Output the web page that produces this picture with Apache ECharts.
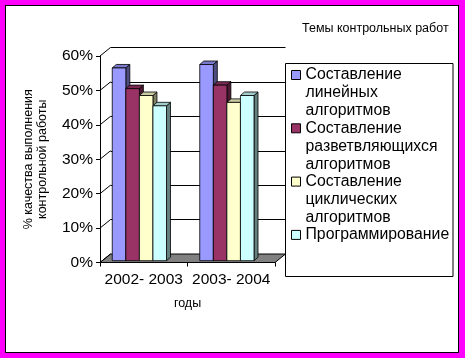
<!DOCTYPE html>
<html><head><meta charset="utf-8">
<script src="https://cdn.jsdelivr.net/npm/echarts@6/dist/echarts.min.js"></script>
<style>
html,body{margin:0;padding:0;background:#FF00FF;}
#frame{position:absolute;left:5px;top:5px;width:452px;height:346px;border:1px solid #000;background:#fff;}
#c{position:absolute;left:0;top:0;width:465px;height:358px;}
</style>
</head><body><div id="frame"></div><div id="c"></div><script>
const categories = ['2002- 2003', '2003- 2004'];
const seriesNames = ['Составление линейных алгоритмов', 'Составление разветвляющихся алгоритмов', 'Составление циклических алгоритмов', 'Программирование'];
const legendLabels = ['Составление\nлинейных\nалгоритмов', 'Составление\nразветвляющихся\nалгоритмов', 'Составление\nциклических\nалгоритмов', 'Программирование'];
const linear = [56, 57];
const branching = [50, 51];
const cyclic = [48, 46];
const programming = [45, 48];
const yTicks = [0, 10, 20, 30, 40, 50, 60];
const legendTitle = 'Темы контрольных работ';
const yName = '% качества выполнения\nконтрольной работы';
const xName = 'годы';

const values = [linear, branching, cyclic, programming];
const faces = [
  {front:'#9999FF', top:'#7A7ACC', side:'#4D4D80'},
  {front:'#993366', top:'#7A2952', side:'#4D1A33'},
  {front:'#FFFFCC', top:'#CCCCA3', side:'#808066'},
  {front:'#CCFFFF', top:'#A3CCCC', side:'#668080'}
];
const DX = 10.5, DY = 8.5;
const FONT = 'Liberation Sans';

function barRender(k){
  const f = faces[k];
  return function(params, api){
    const cat = api.value(0), v = api.value(1);
    const b = api.coord([cat, 0]), t = api.coord([cat, v]);
    const band = api.size([1, 0])[0];
    const w = band * 0.155;
    const x0 = b[0] - band / 2 + band * (0.14 + k * 0.155);
    const yb = b[1] - 1.8, yt = t[1] - 1.8;
    const dx = 4, dy = 3.5;
    const st = (c) => ({fill: c, stroke: '#000', lineWidth: 0.8});
    return {type: 'group', children: [
      {type: 'polygon', shape: {points: [[x0 + w, yb], [x0 + w + dx, yb - dy], [x0 + w + dx, yt - dy], [x0 + w, yt]]}, style: st(f.side)},
      {type: 'polygon', shape: {points: [[x0, yt], [x0 + w, yt], [x0 + w + dx, yt - dy], [x0 + dx, yt - dy]]}, style: st(f.top)},
      {type: 'rect', shape: {x: x0, y: yt, width: w, height: yb - yt}, style: st(f.front)}
    ]};
  };
}

const series = [];
// floor
series.push({
  type: 'custom', xAxisIndex: 0, yAxisIndex: 0, silent: true, z: 1,
  data: [[0, 0]],
  renderItem: function(params, api){
    const cs = params.coordSys;
    const y = api.coord([0, 0])[1];
    const x0 = cs.x, x1 = cs.x + cs.width;
    return {type: 'polygon', shape: {points: [[x0, y], [x1, y], [x1 + DX, y - DY], [x0 + DX, y - DY]]},
      style: {fill: '#808080', stroke: '#000', lineWidth: 1}};
  }
});
// side connectors
series.push({
  type: 'custom', xAxisIndex: 0, yAxisIndex: 0, silent: true, z: 1,
  data: yTicks.map(v => [0, v]),
  renderItem: function(params, api){
    const cs = params.coordSys;
    const y = api.coord([0, api.value(1)])[1];
    return {type: 'line', shape: {x1: cs.x, y1: y, x2: cs.x + DX, y2: y - DY}, style: {stroke: '#000', lineWidth: 1}};
  }
});
values.forEach((arr, k) => {
  series.push({
    name: seriesNames[k], type: 'custom', xAxisIndex: 0, yAxisIndex: 0, z: 3 + k,
    itemStyle: {color: faces[k].front},
    encode: {x: 0, y: 1},
    data: categories.map((c, i) => [i, arr[i]]),
    renderItem: barRender(k)
  });
});

// legend text: pad with blank lines so the marker sits beside the first line
function legendText(name){
  const lines = legendLabels[seriesNames.indexOf(name)].split('\n');
  while (lines.length < 3) lines.push(' ');
  return [' ', ' '].concat(lines).join('\n');
}

const chart = echarts.init(document.getElementById('c'), null, {renderer: 'canvas'});
chart.setOption({
  animation: false,
  backgroundColor: 'transparent',
  textStyle: {fontFamily: FONT, color: '#000'},
  title: {text: legendTitle, left: 302, top: 22, padding: 0,
    textStyle: {fontFamily: FONT, fontSize: 12.5, fontWeight: 'normal', color: '#000'}},
  legend: {
    orient: 'vertical', left: 291, top: 30, padding: 0, itemGap: -36.7,
    itemWidth: 9, itemHeight: 9, icon: 'rect', itemStyle: {borderColor: '#000', borderWidth: 1},
    selectedMode: false,
    data: seriesNames,
    formatter: legendText,
    textStyle: {fontFamily: FONT, fontSize: 15.8, lineHeight: 18, color: '#000'}
  },
  graphic: [{type: 'rect', shape: {x: 285.5, y: 63.5, width: 167.5, height: 213}, style: {fill: 'none', stroke: '#000', lineWidth: 1}, z: 10}],
  grid: [
    {left: 100, top: 56, width: 175, height: 206.5},
    {left: 100 + DX, top: 56 - DY, width: 175, height: 206.5}
  ],
  xAxis: [
    {type: 'category', gridIndex: 0, data: categories,
      axisLine: {lineStyle: {color: '#000', width: 1}}, axisTick: {show: true, length: 4, lineStyle: {color: '#000'}},
      axisLabel: {fontFamily: FONT, fontSize: 15.5, color: '#000', margin: 9.5, interval: 0, hideOverlap: false},
      name: xName, nameLocation: 'middle', nameGap: 35,
      nameTextStyle: {fontFamily: FONT, fontSize: 12.5, color: '#000'}},
    {type: 'category', gridIndex: 1, data: categories, show: false}
  ],
  yAxis: [
    {type: 'value', gridIndex: 0, min: 0, max: 60, interval: 10,
      axisLine: {show: true, lineStyle: {color: '#000', width: 1}},
      axisTick: {show: true, length: 4, lineStyle: {color: '#000'}},
      splitLine: {show: false},
      axisLabel: {fontFamily: FONT, fontSize: 15.5, color: '#000', margin: 7, formatter: v => v + '%'},
      name: yName, nameLocation: 'middle', nameGap: 50, nameRotate: 90,
      nameTextStyle: {fontFamily: FONT, fontSize: 12.5, lineHeight: 14, color: '#000'}},
    {type: 'value', gridIndex: 1, min: 0, max: 60, interval: 10,
      axisLine: {show: false}, axisTick: {show: false}, axisLabel: {show: false},
      splitLine: {show: true, lineStyle: {color: '#000', width: 1}}}
  ],
  series: series
});
</script></body></html>
